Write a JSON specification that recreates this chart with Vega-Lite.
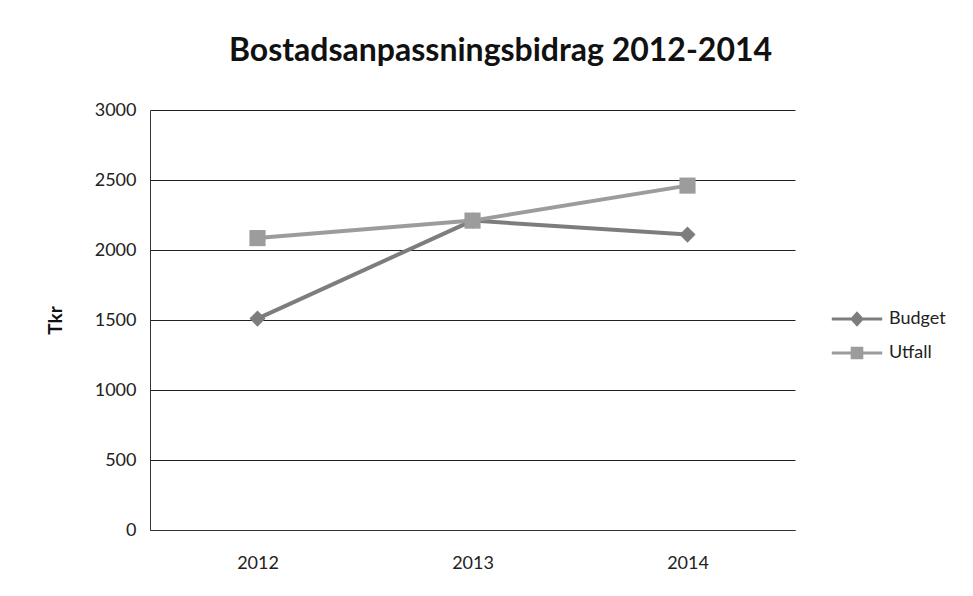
{
  "$schema": "https://vega.github.io/schema/vega-lite/v6.json",
  "autosize": "none",
  "width": 645,
  "height": 420,
  "padding": {"left": 150, "top": 110, "right": 178, "bottom": 66},
  "background": "white",
  "title": {
    "text": "Bostadsanpassningsbidrag 2012-2014",
    "font": "Lato",
    "fontSize": 32,
    "fontWeight": "bold",
    "color": "#111111",
    "anchor": "middle",
    "dx": 28,
    "offset": 33
  },
  "data": {
    "values": [
      {"year": "2012", "serie": "Budget", "value": 1510},
      {"year": "2013", "serie": "Budget", "value": 2210},
      {"year": "2014", "serie": "Budget", "value": 2110},
      {"year": "2012", "serie": "Utfall", "value": 2085},
      {"year": "2013", "serie": "Utfall", "value": 2210},
      {"year": "2014", "serie": "Utfall", "value": 2460}
    ]
  },
  "encoding": {
    "x": {
      "field": "year",
      "type": "ordinal",
      "scale": {"type": "point", "padding": 0.5},
      "axis": {
        "title": null,
        "labelAngle": 0,
        "labelFont": "Lato",
        "labelFontSize": 18,
        "labelColor": "#222222",
        "labelPadding": 24,
        "ticks": false,
        "grid": false,
        "domainColor": "#333333"
      }
    },
    "y": {
      "field": "value",
      "type": "quantitative",
      "scale": {"domain": [0, 3000]},
      "axis": {
        "title": "Tkr",
        "titleFont": "Lato",
        "titleFontSize": 19,
        "titleFontWeight": "bold",
        "titleColor": "#111111",
        "titleX": -85,
        "titleY": 210,
        "values": [0, 500, 1000, 1500, 2000, 2500, 3000],
        "format": "d",
        "labelFont": "Lato",
        "labelFontSize": 18,
        "labelColor": "#222222",
        "labelPadding": 14,
        "ticks": false,
        "grid": true,
        "gridColor": "#222222",
        "gridWidth": 1,
        "domainColor": "#333333"
      }
    },
    "color": {
      "field": "serie",
      "type": "nominal",
      "scale": {"domain": ["Budget", "Utfall"], "range": ["#7d7d7d", "#9c9c9c"]},
      "legend": {
        "title": null,
        "orient": "none",
        "legendX": 698,
        "legendY": 200,
        "labelFont": "Lato",
        "labelFontSize": 18,
        "labelColor": "#222222",
        "labelOffset": 23,
        "rowPadding": 16,
        "symbolSize": 196,
        "symbolStrokeWidth": 0,
        "encode": {
          "symbols": {
            "update": {
              "shape": {"signal": "datum.value === 'Budget' ? 'M-3.6,-0.2H3.6V0.2H-3.6Z M0,-1.1L1,0L0,1.1L-1,0Z' : 'M-3.6,-0.2H3.6V0.2H-3.6Z M-0.9,-0.9H0.9V0.9H-0.9Z'"},
              "fill": {"signal": "scale('color', datum.value)"},
              "stroke": {"value": "transparent"},
              "strokeWidth": {"value": 0},
              "opacity": {"value": 1}
            }
          }
        }
      }
    }
  },
  "layer": [
    {
      "mark": {"type": "line", "strokeWidth": 4}
    },
    {
      "transform": [{"filter": "datum.serie === 'Budget'"}],
      "mark": {"type": "point", "shape": "diamond", "filled": true, "size": 260, "opacity": 1}
    },
    {
      "transform": [{"filter": "datum.serie === 'Utfall'"}],
      "mark": {"type": "point", "shape": "square", "filled": true, "size": 260, "opacity": 1}
    }
  ],
  "config": {"view": {"stroke": null}}
}
